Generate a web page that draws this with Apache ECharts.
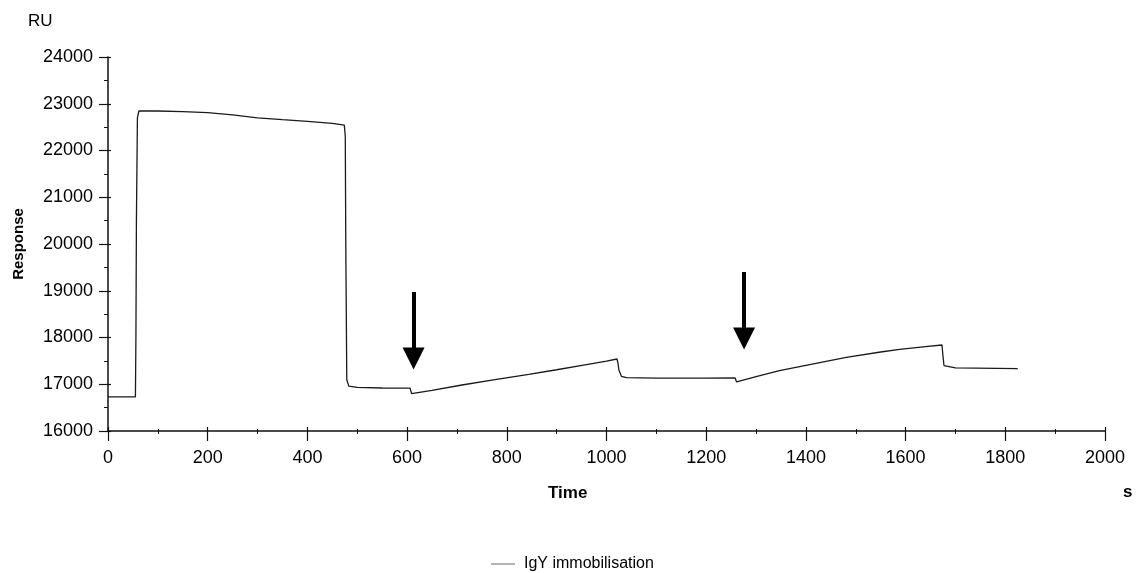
<!DOCTYPE html>
<html>
<head>
<meta charset="utf-8">
<title>IgY immobilisation sensorgram</title>
<script src="https://cdn.jsdelivr.net/npm/echarts@6/dist/echarts.min.js"></script>
<style>
  html, body { margin: 0; padding: 0; background: #fff; }
  #chart { width: 1138px; height: 573px; }
</style>
</head>
<body>
<div id="chart"></div>
<script>
// Sensorgram: time (s) and response (RU)
const time = [
  0, 55, 56, 57, 59, 62, 100, 150, 200, 250, 300, 350, 400, 450, 474,
  476, 477, 479, 483, 500, 550, 606, 609, 612, 650, 710, 770, 844, 900,
  951, 1000, 1021, 1023, 1025, 1030, 1040, 1100, 1200, 1258, 1261, 1300,
  1347, 1400, 1481, 1550, 1588, 1640, 1673, 1675, 1677, 1680, 1700, 1825
];
const response = [
  16730, 16730, 18000, 20500, 22700, 22845, 22845, 22830, 22810, 22760, 22700, 22660, 22625, 22580, 22545,
  22300, 20000, 17100, 16960, 16935, 16920, 16915, 16800, 16790, 16870, 16984, 17090, 17213, 17310,
  17405, 17495, 17540, 17450, 17300, 17170, 17140, 17130, 17130, 17135, 17050, 17165,
  17290, 17405, 17575, 17690, 17747, 17805, 17840, 17600, 17400, 17365, 17350, 17335
];

// Injection markers: x position, shaft start and arrow-head centre (RU)
const arrowTime = [613, 1276];
const arrowFrom = [18973, 19401];
const arrowTo = [17551, 17979];

const xTicks = { min: 0, max: 2000, interval: 200 };
const yTicks = { min: 16000, max: 24000, interval: 1000 };

const seriesName = 'IgY immobilisation';

const chart = echarts.init(document.getElementById('chart'), null, { renderer: 'canvas' });

const axisColor = '#111';
const font = 'Arial, "Liberation Sans", sans-serif';
const plain = v => String(v);

const baseX = {
  type: 'value',
  min: xTicks.min, max: xTicks.max, interval: xTicks.interval,
  position: 'bottom',
  splitLine: { show: false }
};
const baseY = {
  type: 'value',
  min: yTicks.min, max: yTicks.max, interval: yTicks.interval,
  position: 'left',
  splitLine: { show: false }
};

chart.setOption({
  animation: false,
  backgroundColor: '#fff',
  grid: { left: 108, right: 33, top: 57, bottom: 142, containLabel: false },
  xAxis: [
    Object.assign({}, baseX, {
      axisLine: { show: true, lineStyle: { color: axisColor, width: 1.5 } },
      axisTick: { show: true, inside: false, length: 10, lineStyle: { color: axisColor, width: 1.2 } },
      minorTick: { show: true, splitNumber: 2, length: 3, lineStyle: { color: axisColor, width: 1 } },
      axisLabel: { show: true, margin: 18, color: '#000', fontSize: 18, fontFamily: font, formatter: plain }
    }),
    Object.assign({}, baseX, {
      axisLine: { show: false },
      axisTick: { show: true, inside: true, length: 4, lineStyle: { color: axisColor, width: 1.2 } },
      minorTick: { show: true, splitNumber: 2, length: 2, lineStyle: { color: axisColor, width: 1 } },
      axisLabel: { show: false }
    })
  ],
  yAxis: [
    Object.assign({}, baseY, {
      name: 'Response',
      nameLocation: 'middle',
      nameGap: 82,
      nameTextStyle: { color: '#000', fontSize: 15, fontWeight: 'bold', fontFamily: font },
      axisLine: { show: true, lineStyle: { color: axisColor, width: 1.5 } },
      axisTick: { show: true, inside: false, length: 9, lineStyle: { color: axisColor, width: 1.2 } },
      minorTick: { show: true, splitNumber: 2, length: 4, lineStyle: { color: axisColor, width: 1 } },
      axisLabel: { show: true, margin: 15, color: '#000', fontSize: 18, fontFamily: font, formatter: plain }
    }),
    Object.assign({}, baseY, {
      axisLine: { show: false },
      axisTick: { show: true, inside: true, length: 3, lineStyle: { color: axisColor, width: 1.2 } },
      minorTick: { show: false },
      axisLabel: { show: false }
    })
  ],
  legend: {
    left: 486, top: 551,
    icon: 'rect',
    itemWidth: 24, itemHeight: 1, itemGap: 10,
    textStyle: { color: '#000', fontSize: 16, fontFamily: font, padding: [0, 0, 0, 4] },
    data: [seriesName]
  },
  graphic: [
    { type: 'text', left: 28, top: 13, style: { text: 'RU', fill: '#000', font: '17px ' + font } },
    { type: 'text', left: 548, top: 485, style: { text: 'Time', fill: '#000', font: 'bold 17px ' + font } },
    { type: 'text', left: 1123, top: 484, style: { text: 's', fill: '#000', font: 'bold 17px ' + font } }
  ],
  series: [
    {
      name: seriesName,
      type: 'line',
      xAxisIndex: 0, yAxisIndex: 0,
      data: time.map((t, i) => [t, response[i]]),
      symbol: 'none',
      showSymbol: false,
      smooth: false,
      silent: true,
      lineStyle: { color: '#1a1a1a', width: 1.3 },
      itemStyle: { color: '#666' }
    },
    {
      name: 'markers',
      type: 'line',
      xAxisIndex: 0, yAxisIndex: 0,
      data: [],
      silent: true,
      markLine: {
        silent: true,
        symbol: ['none', 'triangle'],
        symbolSize: 22,
        symbolRotate: 180,
        label: { show: false },
        emphasis: { disabled: true },
        lineStyle: { color: '#000', width: 4, type: 'solid' },
        itemStyle: { color: '#000' },
        data: arrowTime.map((t, i) => [
          { coord: [t, arrowFrom[i]] },
          { coord: [t, arrowTo[i]] }
        ])
      }
    }
  ]
});
</script>
</body>
</html>
